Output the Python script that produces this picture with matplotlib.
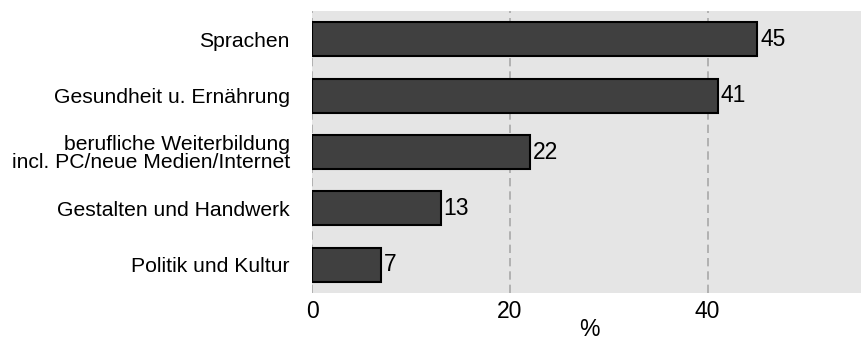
import matplotlib
matplotlib.use("Agg")
import matplotlib.pyplot as plt

categories = [
    "Sprachen",
    "Gesundheit u. Ernährung",
    "berufliche Weiterbildung\nincl. PC/neue Medien/Internet",
    "Gestalten und Handwerk",
    "Politik und Kultur",
]
values = [45, 41, 22, 13, 7]
x_ticks = [0, 20, 40]

plt.rcParams["font.family"] = ["Liberation Sans", "DejaVu Sans"]

fig = plt.figure(figsize=(8.61, 3.45), dpi=100)
ax = fig.add_axes([0.3624, 0.1507, 0.6376, 0.8174])
ax.set_facecolor("#e5e5e5")

pos = list(range(len(categories)))
ax.barh(pos, values, height=0.6, color="#404040", edgecolor="black", linewidth=1.5, zorder=3)
for p, v in zip(pos, values):
    ax.text(v + 0.3, p, f"{v}", va="center", ha="left", fontsize=16.5, zorder=4)

ax.set_xlim(0, 55.5)
ax.set_ylim(len(categories) - 0.5, -0.5)
ax.set_yticks(pos)
ax.set_yticklabels(categories, fontsize=15.2, linespacing=0.95)
ax.set_xticks(x_ticks)
ax.set_xticklabels([str(t) for t in x_ticks], fontsize=16.5)
ax.tick_params(length=0)
ax.tick_params(axis="x", pad=5)
ax.tick_params(axis="y", pad=16)
ax.xaxis.grid(True, color="#a8a8a8", linestyle=(0, (5, 3)), linewidth=1.2, zorder=1)
ax.set_axisbelow(True)
for s in ax.spines.values():
    s.set_visible(False)

# axis title placed just under the tick labels
fig.text(0.685, 0.045, "%", ha="center", va="center", fontsize=16.5)

fig.savefig("out.png", dpi=100)
